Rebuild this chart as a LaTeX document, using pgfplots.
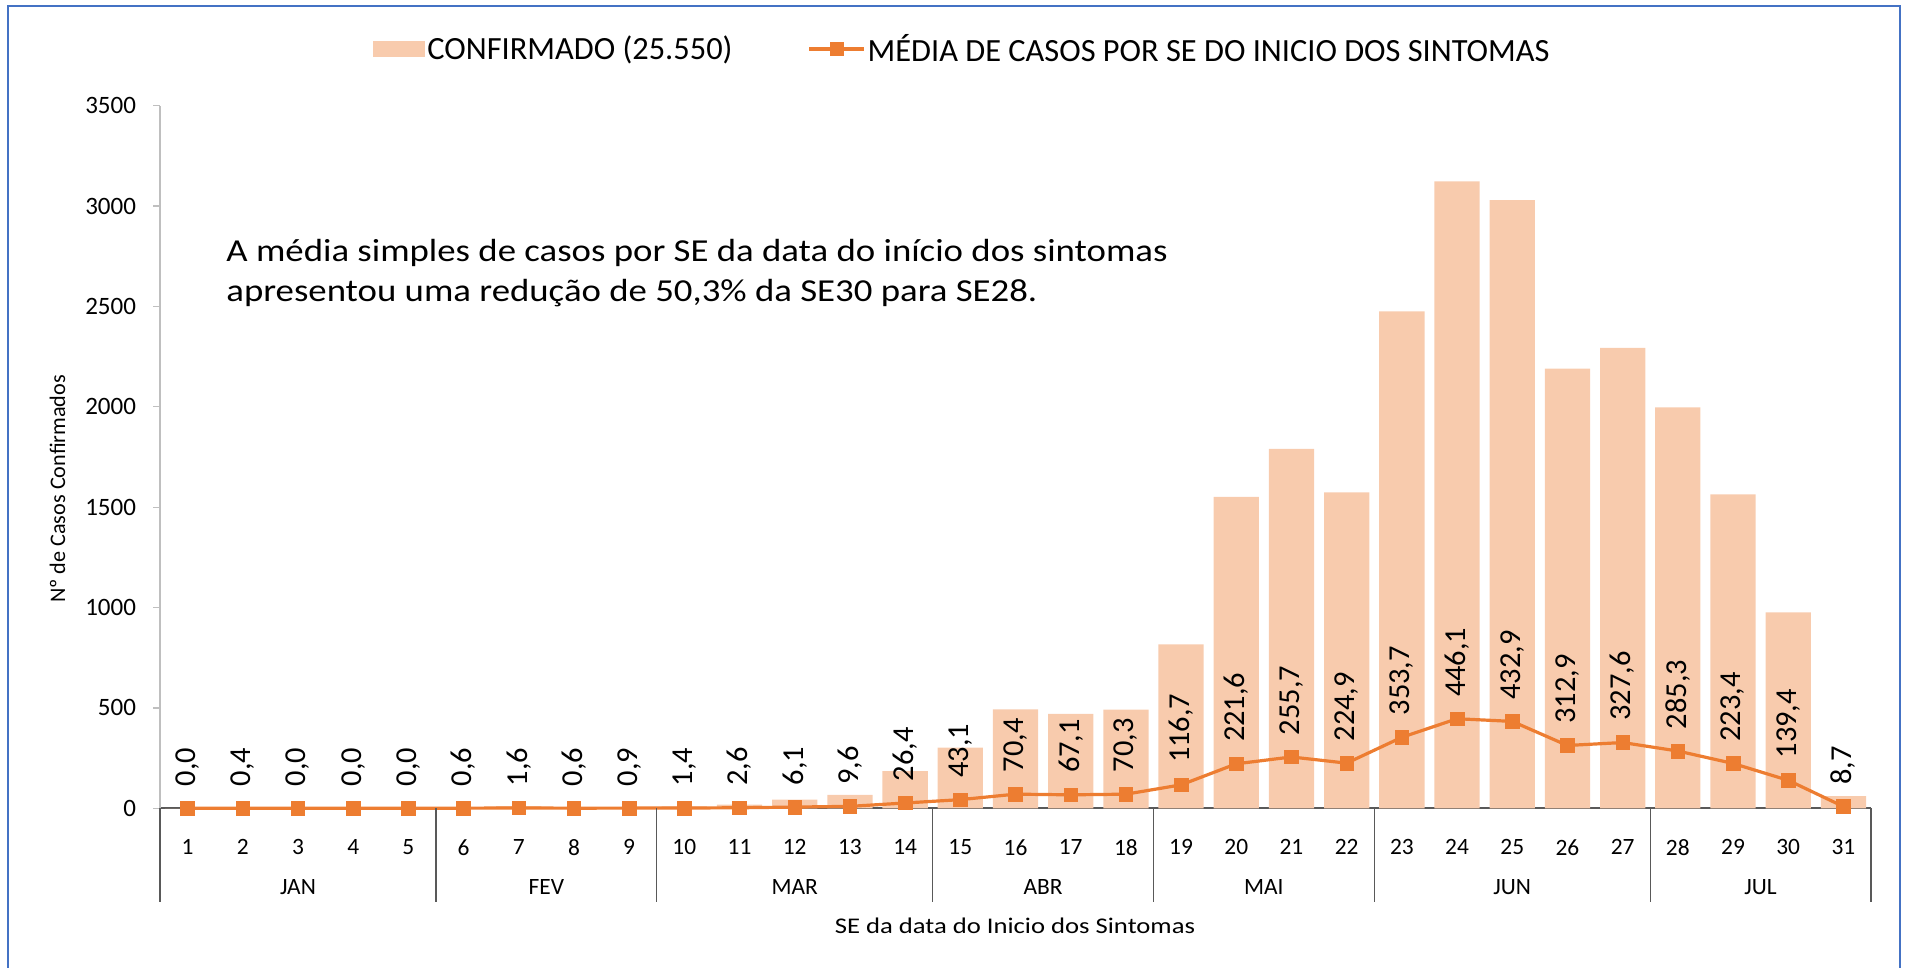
\documentclass[border=0pt]{standalone}
\usepackage{pgfplots}
\usepackage{pgfplotstable}
\pgfplotsset{compat=1.18}
\usepackage{fontspec}
\setmainfont{Carlito}
\newfontfamily\annfont[FakeStretch=1.15]{Carlito}
\newfontfamily\xlabfont[FakeStretch=1.19]{Carlito}
\definecolor{barc}{HTML}{F8CBAD}
\definecolor{linec}{HTML}{ED7D31}
\definecolor{framec}{HTML}{4472C4}
\definecolor{axgray}{HTML}{595959}
\definecolor{ygray}{HTML}{BFBFBF}

\pgfplotsset{
  barleg/.style={legend image code/.code={\fill[barc] (0pt,-4pt) rectangle (26pt,4pt);}},
  lineleg/.style={legend image code/.code={\draw[mark repeat=2,mark phase=2,##1] plot coordinates {(0pt,0pt) (13.75pt,0pt) (27.5pt,0pt)};}},
}

\pgfplotstableread{
se  conf  media
1   0     0.0
2   3     0.4
3   0     0.0
4   0     0.0
5   0     0.0
6   4     0.6
7   11    1.6
8   4     0.6
9   6     0.9
10  10    1.4
11  18    2.6
12  43    6.1
13  67    9.6
14  185   26.4
15  302   43.1
16  493   70.4
17  470   67.1
18  492   70.3
19  817   116.7
20  1551  221.6
21  1790  255.7
22  1574  224.9
23  2476  353.7
24  3123  446.1
25  3030  432.9
26  2190  312.9
27  2293  327.6
28  1997  285.3
29  1564  223.4
30  976   139.4
31  61    8.7
}\datatable

\begin{document}
\begin{tikzpicture}
\useasboundingbox (0,0) rectangle (952.5pt,484pt);
\draw[framec, line width=1.1pt] (4pt,0pt) -- (4pt,481pt) -- (950pt,481pt) -- (950pt,0pt);

\begin{axis}[
  at={(80pt,79.85pt)}, anchor=south west,
  scale only axis, width=855.5pt, height=351.3pt,
  xmin=0.5, xmax=31.5, ymin=0, ymax=3500,
  clip=false,
  axis x line*=bottom, axis y line*=left,
  x axis line style={draw=axgray, line width=0.8pt, -},
  y axis line style={draw=ygray, line width=0.6pt, -},
  xtick={1,...,31},
  ytick={0,500,...,3500},
  scaled y ticks=false,
  /pgf/number format/1000 sep={},
  /pgf/number format/assume math mode=true,
  tick align=outside,
  major tick length=3.5pt,
  xtick style={draw=none},
  ytick style={draw=ygray, line width=0.6pt},
  xticklabel style={font=\fontsize{11.7}{13}\selectfont, anchor=center, yshift=-16pt},
  yticklabel style={font=\fontsize{12.5}{14}\selectfont, xshift=-5pt},
  legend columns=2,
  legend style={at={(0.1245,1.0807)}, anchor=west, draw=none, fill=none,
    inner sep=0pt, font=\fontsize{16.2}{19}\selectfont,
    nodes={inner sep=1pt},
    /tikz/every even column/.append style={column sep=36.5pt}},
]
\addplot[ybar, bar width=0.82, bar shift=0pt, fill=barc, draw=none, barleg]
  table[x=se, y=conf] {\datatable};
\addlegendentry{CONFIRMADO (25.550)}

\addplot[linec, line width=1.6pt, mark=square*, mark size=3.4pt,
  mark options={fill=linec, draw=linec, line width=0.3pt},
  nodes near coords={\pgfmathprintnumber[assume math mode=true,fixed,fixed zerofill,precision=1,use comma]{\pgfplotspointmeta}},
  nodes near coords style={rotate=90, anchor=west, text=black,
    font=\fontsize{15.2}{17}\selectfont, inner sep=0pt, inner xsep=10.8pt},
  lineleg]
  table[x=se, y=media] {\datatable};
\addlegendentry{MÉDIA DE CASOS POR SE DO INICIO DOS SINTOMAS}

\pgfplotsinvokeforeach{0.5,5.5,9.5,14.5,18.5,22.5,27.5,31.5}{
  \draw[axgray, line width=0.6pt] (axis cs:#1,0) -- ++(0pt,-47pt);
}
\node[font=\fontsize{11.7}{13}\selectfont, yshift=-39.2pt] at (axis cs:3,0) {JAN};
\node[font=\fontsize{11.7}{13}\selectfont, yshift=-39.2pt] at (axis cs:7.5,0) {FEV};
\node[font=\fontsize{11.7}{13}\selectfont, yshift=-39.2pt] at (axis cs:12,0) {MAR};
\node[font=\fontsize{11.7}{13}\selectfont, yshift=-39.2pt] at (axis cs:16.5,0) {ABR};
\node[font=\fontsize{11.7}{13}\selectfont, yshift=-39.2pt] at (axis cs:20.5,0) {MAI};
\node[font=\fontsize{11.7}{13}\selectfont, yshift=-39.2pt] at (axis cs:25,0) {JUN};
\node[font=\fontsize{11.7}{13}\selectfont, yshift=-39.2pt] at (axis cs:29.5,0) {JUL};
\end{axis}

\node[rotate=90, font=\fontsize{11.1}{13}\selectfont] at (28.75pt,239.5pt) {Nº de Casos Confirmados};
\node[font=\xlabfont\fontsize{11.2}{14}\selectfont] at (507.5pt,21pt) {SE da data do Inicio dos Sintomas};
\node[anchor=base west, inner sep=0pt, font=\annfont\fontsize{16}{20}\selectfont] at (113pt,353.15pt) {A média simples de casos por SE da data do início dos sintomas};
\node[anchor=base west, inner sep=0pt, font=\annfont\fontsize{16}{20}\selectfont] at (113pt,333.1pt) {apresentou uma redução de 50,3\% da SE30 para SE28.};
\end{tikzpicture}
\end{document}
